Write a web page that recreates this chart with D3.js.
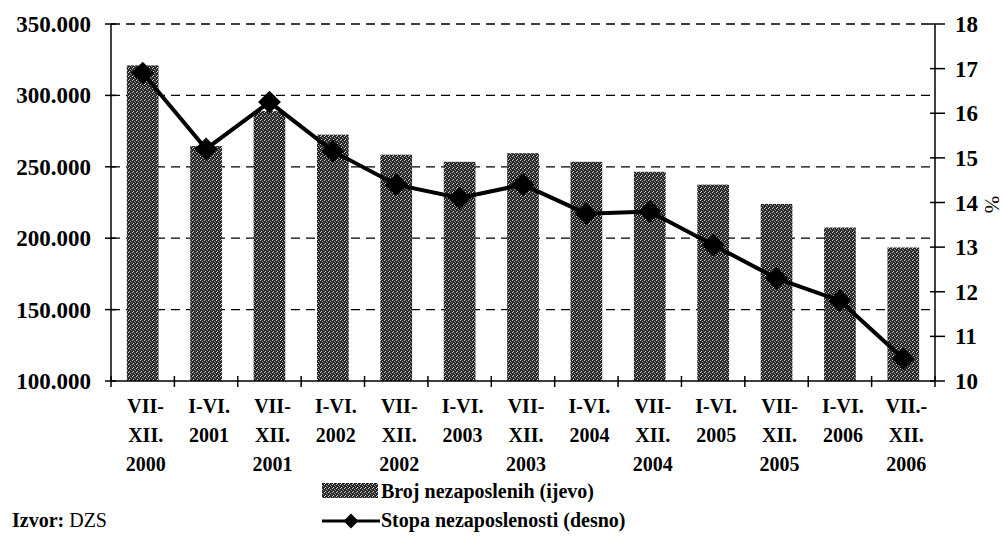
<!DOCTYPE html>
<html>
<head>
<meta charset="utf-8">
<script src="https://cdn.jsdelivr.net/npm/d3@7"></script>
<style>
  body { margin: 0; background: #fff; }
  svg text { font-family: "Liberation Serif", "Times New Roman", serif; font-weight: bold; fill: #000; }
</style>
</head>
<body>
<div id="chart"></div>
<script>
// categories (half-year periods), each label split in lines
var periods = [
  ["VII-", "XII.", "2000"], ["I-VI.", "2001"], ["VII-", "XII.", "2001"],
  ["I-VI.", "2002"], ["VII-", "XII.", "2002"], ["I-VI.", "2003"],
  ["VII-", "XII.", "2003"], ["I-VI.", "2004"], ["VII-", "XII.", "2004"],
  ["I-VI.", "2005"], ["VII-", "XII.", "2005"], ["I-VI.", "2006"],
  ["VII.-", "XII.", "2006"]
];
// number of unemployed (left axis)
var unemployed = [321000, 264500, 289000, 272500, 258500, 253500, 259500,
  253500, 246500, 237500, 224000, 207500, 193500];
// unemployment rate, % (right axis)
var rate = [16.9, 15.2, 16.25, 15.15, 14.4, 14.1, 14.4, 13.75, 13.8,
  13.05, 12.3, 11.8, 10.5];

var leftTicks = [100000, 150000, 200000, 250000, 300000, 350000];
var rightTicks = [10, 11, 12, 13, 14, 15, 16, 17, 18];
var barLegend = "Broj nezaposlenih (ijevo)";
var lineLegend = "Stopa nezaposlenosti (desno)";

var width = 1003, height = 557;
var plot = { left: 111, right: 935, top: 24, bottom: 381 };

var svg = d3.select("#chart").append("svg")
  .attr("width", width)
  .attr("height", height);

// speckled fill like the scanned bars
var defs = svg.append("defs");
var pat = defs.append("pattern")
  .attr("id", "speckle")
  .attr("patternUnits", "userSpaceOnUse")
  .attr("width", 4).attr("height", 4);
pat.append("rect").attr("width", 4).attr("height", 4).attr("fill", "#262626");
pat.append("rect").attr("x", 0).attr("y", 0).attr("width", 1).attr("height", 1).attr("fill", "#d0d0d0");
pat.append("rect").attr("x", 2).attr("y", 1).attr("width", 1).attr("height", 1).attr("fill", "#a8a8a8");
pat.append("rect").attr("x", 1).attr("y", 3).attr("width", 1).attr("height", 1).attr("fill", "#d8d8d8");
pat.append("rect").attr("x", 3).attr("y", 2).attr("width", 1).attr("height", 1).attr("fill", "#808080");

var x = d3.scaleBand()
  .domain(d3.range(periods.length))
  .range([plot.left, plot.right])
  .paddingInner(0.5)
  .paddingOuter(0.25);

var yLeft = d3.scaleLinear().domain([100000, 350000]).range([plot.bottom, plot.top]);
var yRight = d3.scaleLinear().domain([10, 18]).range([plot.bottom, plot.top]);

// dashed gridlines
svg.append("g")
  .selectAll("line")
  .data(leftTicks.slice(1))
  .enter()
  .append("line")
  .attr("x1", plot.left)
  .attr("x2", plot.right)
  .attr("y1", (d) => yLeft(d))
  .attr("y2", (d) => yLeft(d))
  .attr("stroke", "#000")
  .attr("stroke-width", 1.3)
  .attr("stroke-dasharray", "9,6");

// bars
svg.append("g")
  .selectAll("rect")
  .data(unemployed)
  .enter()
  .append("rect")
  .attr("x", (d, i) => x(i))
  .attr("width", x.bandwidth())
  .attr("y", (d) => yLeft(d))
  .attr("height", (d) => plot.bottom - yLeft(d))
  .attr("fill", "url(#speckle)");

// left axis
var fmt = (d) => d3.format(",")(d).replace(/,/g, ".");
var gLeft = svg.append("g");
gLeft.append("line")
  .attr("x1", plot.left).attr("x2", plot.left)
  .attr("y1", yLeft(350000)).attr("y2", plot.bottom)
  .attr("stroke", "#000").attr("stroke-width", 1.5);
gLeft.selectAll(".tick")
  .data(leftTicks)
  .enter()
  .append("line")
  .attr("x1", plot.left - 6).attr("x2", plot.left + 5)
  .attr("y1", (d) => yLeft(d)).attr("y2", (d) => yLeft(d))
  .attr("stroke", "#000").attr("stroke-width", 1.5);
gLeft.selectAll("text")
  .data(leftTicks)
  .enter()
  .append("text")
  .attr("x", 91)
  .attr("y", (d) => yLeft(d))
  .attr("dy", "0.35em")
  .attr("text-anchor", "end")
  .style("font-size", "23px")
  .text(fmt);

// right axis
var gRight = svg.append("g");
gRight.append("line")
  .attr("x1", plot.right).attr("x2", plot.right)
  .attr("y1", plot.top).attr("y2", plot.bottom)
  .attr("stroke", "#000").attr("stroke-width", 1.5);
gRight.selectAll(".tick")
  .data(rightTicks)
  .enter()
  .append("line")
  .attr("x1", plot.right - 5).attr("x2", plot.right + 10)
  .attr("y1", (d) => yRight(d)).attr("y2", (d) => yRight(d))
  .attr("stroke", "#000").attr("stroke-width", 1.5);
gRight.selectAll("text")
  .data(rightTicks)
  .enter()
  .append("text")
  .attr("x", 955)
  .attr("y", (d) => yRight(d))
  .attr("dy", "0.35em")
  .style("font-size", "23px")
  .text((d) => d);
svg.append("text")
  .attr("transform", "translate(985," + (yRight(14) + 2) + ") rotate(90)")
  .attr("text-anchor", "middle")
  .style("font-size", "21px")
  .style("font-weight", "normal")
  .text("%");

// bottom axis
var gBottom = svg.append("g");
gBottom.append("line")
  .attr("x1", plot.left).attr("x2", plot.right)
  .attr("y1", plot.bottom).attr("y2", plot.bottom)
  .attr("stroke", "#000").attr("stroke-width", 1.5);
gBottom.selectAll(".tick")
  .data(d3.range(periods.length + 1))
  .enter()
  .append("line")
  .attr("x1", (d) => plot.left + d * (plot.right - plot.left) / periods.length)
  .attr("x2", (d) => plot.left + d * (plot.right - plot.left) / periods.length)
  .attr("y1", plot.bottom - 5).attr("y2", plot.bottom + 6)
  .attr("stroke", "#000").attr("stroke-width", 1.5);

var cats = gBottom.selectAll(".cat")
  .data(periods)
  .enter()
  .append("text")
  .attr("class", "cat")
  .attr("text-anchor", "middle")
  .style("font-size", "20px");
cats.selectAll("tspan")
  .data((d, i) => d.map((t) => ({ t: t, i: i })))
  .enter()
  .append("tspan")
  .attr("x", (d) => x(d.i) + x.bandwidth() / 2 + 3)
  .attr("y", (d, j) => 413 + j * 29)
  .text((d) => d.t);

// line series
var line = d3.line()
  .x((d, i) => x(i) + x.bandwidth() / 2)
  .y((d) => yRight(d));
svg.append("path")
  .datum(rate)
  .attr("d", line)
  .attr("fill", "none")
  .attr("stroke", "#000")
  .attr("stroke-width", 4);
var diamond = d3.symbol().type(d3.symbolSquare).size(260);
svg.append("g")
  .selectAll("path")
  .data(rate)
  .enter()
  .append("path")
  .attr("d", diamond)
  .attr("transform", (d, i) => "translate(" + (x(i) + x.bandwidth() / 2) + "," + yRight(d) + ") rotate(45)")
  .attr("fill", "#000");

// legend
var lg = svg.append("g");
lg.append("rect")
  .attr("x", 322).attr("y", 483)
  .attr("width", 56).attr("height", 15)
  .attr("fill", "url(#speckle)");
lg.append("text")
  .attr("x", 381).attr("y", 491).attr("dy", "0.35em")
  .style("font-size", "20px")
  .text(barLegend);
lg.append("line")
  .attr("x1", 322).attr("x2", 380)
  .attr("y1", 521).attr("y2", 521)
  .attr("stroke", "#000").attr("stroke-width", 3);
lg.append("path")
  .attr("d", d3.symbol().type(d3.symbolSquare).size(110))
  .attr("transform", "translate(351,521) rotate(45)")
  .attr("fill", "#000");
lg.append("text")
  .attr("x", 381).attr("y", 520).attr("dy", "0.35em")
  .style("font-size", "20px")
  .text(lineLegend);

var src = svg.append("text")
  .attr("x", 12).attr("y", 520).attr("dy", "0.35em")
  .style("font-size", "20px");
src.append("tspan").text("Izvor: ");
src.append("tspan").style("font-weight", "normal").text("DZS");
</script>
</body>
</html>
